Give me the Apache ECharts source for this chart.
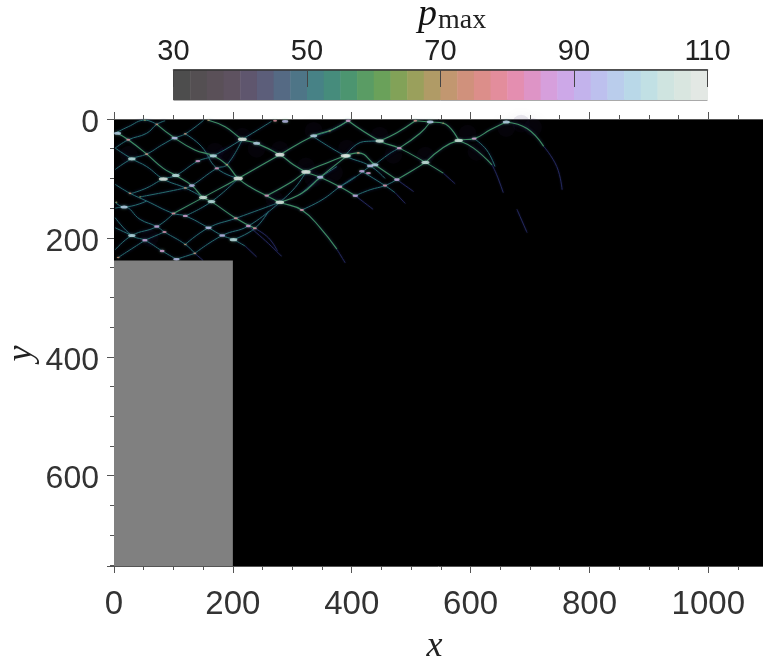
<!DOCTYPE html>
<html><head><meta charset="utf-8">
<script src="https://cdn.jsdelivr.net/npm/echarts@6/dist/echarts.min.js"></script>
<style>html,body{margin:0;padding:0;background:#fff}#c{width:763px;height:663px}canvas{filter:blur(0.45px)}</style>
</head><body><div id="c"></div>
<script>
const xTicks = [0,200,400,600,800,1000];
const yTicks = [0,200,400,600];
const xMax = 1092, yMax = 752;
const colorTicks = [30,50,70,90,110];
const colorStops = [30,32.5,35,37.5,40,42.5,45,47.5,50,52.5,55,57.5,60,62.5,65,67.5,70,72.5,75,77.5,80,82.5,85,87.5,90,92.5,95,97.5,100,102.5,105,107.5,110];
const colorValues = ['#4d4d4d','#544f52','#5a5058','#5e5260','#5f566e','#5c5e7a','#556a84','#4e7587','#478286','#468c7c','#4c9570','#5a9c64','#6aa15a','#82a258','#9aa05c','#b09b66','#c29770','#d0917c','#dc8e8a','#e38d9c','#e48eb0','#de94c6','#d69fdc','#cda8e8','#c3b3ec','#bdc0ee','#bacdec','#b9d8e8','#c1e0e4','#cfe4e0','#d9e6e0','#e3e8e4','#ebebeb'];
const wallBlock = [[0,238,200,752]];

// bright ridges
const ridgesStrong = [
 [[159,2],[187,13],[216,34],[240,41],[279,60],[302,77],[323,89],[347,98],[380,114],[406,129]],
 [[72,9],[102,32],[136,52],[167,62],[190,77],[209,100],[232,116],[257,129],[279,140],[316,153],[347,183],[375,219]],
 [[100,159],[150,132],[209,100],[279,60],[336,28],[367,18],[394,3]],
 [[6,24],[24,35],[55,59],[83,83],[104,95],[131,112],[150,132],[164,139],[205,167],[237,184]],
 [[394,3],[447,37],[480,49],[524,73],[554,91]],
 [[660,5],[695,16],[723,46]],
 [[580,36],[605,49],[636,77]],
 [[389,62],[411,57],[439,77],[476,102]],
 [[524,73],[554,48],[580,36],[606,33],[633,18],[660,5]],
 [[447,37],[476,23],[507,3]],
 [[480,49],[515,24],[532,5]],
 [[507,3],[532,5],[554,7],[580,36]],
 [[279,140],[316,125],[347,98],[392,62]],
 [[257,129],[300,105],[323,89],[358,74],[389,62]],
 [[476,102],[500,88],[524,73]]
];
// medium ridges
const ridgesMid = [
 [[2,24],[24,13],[52,2],[72,9]],
 [[2,49],[24,35],[55,24],[72,9],[86,3]],
 [[2,85],[30,67],[55,59],[80,44],[102,32],[120,25],[151,2]],
 [[30,125],[55,116],[83,101],[104,95],[141,71],[167,62],[216,34],[265,4]],
 [[44,131],[120,116],[131,112],[173,83],[190,77],[216,34]],
 [[120,163],[164,139],[209,100]],
 [[2,110],[27,125],[55,138],[100,159],[120,163],[159,183],[182,196],[201,203],[221,214]],
 [[2,150],[17,148],[44,169],[72,181],[85,190],[120,211],[136,226]],
 [[2,166],[30,196],[52,204],[81,222],[105,236]],
 [[2,49],[30,67],[55,80],[83,101],[120,116],[150,132]],
 [[120,25],[147,46],[173,83],[209,100]],
 [[2,220],[30,196],[72,181],[100,159]],
 [[52,204],[85,190]],
 [[120,211],[159,183],[205,167],[279,140]],
 [[7,233],[52,204]],
 [[136,226],[182,196],[226,180],[279,140]],
 [[105,236],[136,226]],
 [[201,203],[237,184],[260,155]],
 [[2,183],[30,196]],
 [[2,140],[17,148],[55,138]],
 [[316,153],[350,136],[380,114],[406,97]],
 [[279,140],[305,115],[323,89]],
 [[336,30],[389,62],[431,79],[456,100]],
 [[336,28],[363,20],[394,3]],
 [[389,62],[420,38],[447,37]],
 [[439,77],[464,58],[480,49]],
 [[347,98],[375,80]],
 [[380,114],[403,100],[431,79]],
 [[406,129],[431,119],[456,112],[476,102]],
 [[417,88],[456,112],[473,124]],
 [[313,127],[347,98]],
 [[606,33],[627,52],[641,80]]
];
// fading tails
const ridgesFaint = [
 [[375,219],[389,242]],
 [[237,184],[260,200],[275,222]],
 [[221,214],[240,232]],
 [[406,129],[436,152]],
 [[473,124],[490,142]],
 [[476,102],[504,122]],
 [[554,91],[574,109]],
 [[723,46],[745,80],[754,119]],
 [[636,77],[644,94],[655,124]],
 [[678,152],[695,191]],
 [[136,226],[150,238]],
 [[226,180],[255,205],[282,231]]
];
// hot spots: x, y, pmax
const hotSpots = [
 [6,24,96],[24,35,78],[30,67,100],[55,59,74],[72,9,72],[52,2,66],[102,32,92],[120,25,72],
 [167,62,98],[141,71,84],[190,77,70],[173,83,82],[216,34,108],[240,41,96],[279,60,110],[336,28,96],
 [392,62,100],[323,89,110],[347,98,92],[380,114,84],[406,129,88],[209,100,110],[83,101,108],[104,95,100],
 [120,116,72],[131,112,90],[150,132,104],[164,139,100],[257,129,82],[279,140,106],[316,153,80],
 [27,125,72],[44,131,66],[17,148,96],[4,140,66],[100,159,78],[120,163,84],[205,167,78],[159,183,92],
 [226,180,84],[237,184,78],[72,181,86],[85,190,80],[30,196,98],[52,204,86],[182,196,90],[201,203,100],
 [120,211,70],[81,222,84],[136,226,72],[105,236,92],[7,233,72],[288,4,92],[271,3,78],[394,3,84],
 [159,2,70],[363,20,68],[447,37,104],[480,49,84],[389,62,108],[411,57,72],[439,77,96],[431,79,92],
 [417,88,88],[428,91,84],[476,102,88],[456,112,80],[524,73,102],[580,36,104],[606,33,84],[507,3,76],
 [532,5,94],[554,7,66],[660,5,96]
];
const haze = [
 [216,30],[240,50],[279,52],[336,20],[323,80],[335,100],[392,50],[447,28],[470,60],[524,62],[595,25],[610,55],[685,8],[705,14],[660,15],[190,60],[60,200],[170,55],[270,135],[370,90],[25,60]
];

const inkCol = '#333333', tickCol = '#555555';
const mk = (arr, color, width, blur, glow, z) => arr.map(pts => ({
  type:'line', xAxisIndex:0, yAxisIndex:0, data:pts, smooth:0.45, symbol:'none', silent:true, z:z,
  lineStyle:{color:color, width:width, shadowBlur:blur, shadowColor:glow}
}));

const option = {
  animation:false, backgroundColor:'#ffffff',
  title:{text:'{p|p}{s|max}', left:413, top:-10, textStyle:{fontWeight:'normal', rich:{
    p:{fontFamily:'Liberation Serif', fontStyle:'italic', fontWeight:'normal', fontSize:38, color:'#111', lineHeight:40},
    s:{fontFamily:'Liberation Serif', fontWeight:'normal', fontSize:28, color:'#222', verticalAlign:'bottom', padding:[8,0,0,1]}
  }}},
  grid:[
    {left:114, top:119, right:0, bottom:97, show:true, backgroundColor:'#000000', borderWidth:0, outerBoundsMode:'none'},
    {left:173.5, top:70, width:534, height:30, show:true, backgroundColor:'#ffffff', borderColor:'#555555', borderWidth:1, outerBoundsMode:'none'}
  ],
  xAxis:[
    {gridIndex:0, type:'value', position:'bottom', min:0, max:xMax, interval:200,
     name:'x', nameLocation:'middle', nameGap:63, nameMoveOverlap:false, nameTextStyle:{fontFamily:'Liberation Serif', fontStyle:'italic', fontSize:36, color:'#222', padding:[0,8,0,0]},
     axisLine:{show:true, onZero:false, lineStyle:{color:tickCol}},
     axisTick:{show:true, length:7, lineStyle:{color:tickCol}},
     minorTick:{show:true, splitNumber:4, length:4, lineStyle:{color:tickCol}},
     splitLine:{show:false},
     axisLabel:{show:true, margin:22, fontFamily:'Liberation Sans', fontSize:33, color:inkCol, hideOverlap:false, showMaxLabel:true,
       customValues:xTicks, formatter:v=>String(v)}},
    {gridIndex:0, type:'value', position:'top', min:0, max:xMax, interval:200,
     axisLine:{show:true, onZero:false, lineStyle:{color:tickCol}},
     axisTick:{show:true, length:7, lineStyle:{color:tickCol}},
     minorTick:{show:true, splitNumber:4, length:4, lineStyle:{color:tickCol}},
     splitLine:{show:false}, axisLabel:{show:false}},
    {gridIndex:1, type:'value', position:'top', min:colorTicks[0], max:colorTicks[4], interval:20, z:8,
     axisLine:{show:true, onZero:false, lineStyle:{color:'#333', width:1.5}},
     axisTick:{show:true, inside:true, length:17, lineStyle:{color:'#444'}},
     splitLine:{show:false},
     axisLabel:{show:true, margin:4, fontFamily:'Liberation Sans', fontSize:29, color:'#222'}}
  ],
  yAxis:[
    {gridIndex:0, type:'value', inverse:true, min:0, max:yMax, interval:200,
     name:'y', nameLocation:'middle', nameRotate:90, nameGap:74, nameMoveOverlap:false, nameTextStyle:{fontFamily:'Liberation Serif', fontStyle:'italic', fontSize:36, color:'#222', padding:[0,22,0,0]},
     axisLine:{show:false, onZero:false},
     axisTick:{show:true, length:7, lineStyle:{color:tickCol}},
     minorTick:{show:true, splitNumber:4, length:4, lineStyle:{color:tickCol}},
     splitLine:{show:false},
     axisLabel:{show:true, margin:15, hideOverlap:false, showMaxLabel:true, customValues:yTicks,
       formatter:v=>'{n|'+v+'}',
       rich:{n:{fontFamily:'Liberation Sans', fontSize:32, color:inkCol, padding:[8,0,0,0]}}}},
    {gridIndex:1, type:'value', min:0, max:1, show:false}
  ],
  visualMap:[{show:false, type:'continuous', seriesIndex:1, dimension:2, min:colorTicks[0], max:colorTicks[4], inRange:{color:colorValues}}],
  series:[
    {type:'scatter', xAxisIndex:0, yAxisIndex:0, data:haze, symbolSize:18, silent:true, z:2,
     itemStyle:{color:'rgba(50,32,90,0.12)', shadowBlur:14, shadowColor:'rgba(50,32,90,0.5)'}},
    {type:'scatter', xAxisIndex:0, yAxisIndex:0, data:hotSpots, silent:true, z:6,
     symbol:'circle', symbolSize:d=>[1+(d[2]-60)/6, 1+(d[2]-60)/18],
     itemStyle:{shadowBlur:3, shadowColor:'rgba(110,190,150,0.7)'}},
    ...mk(ridgesFaint,'#23285c',1,2,'#16163c',3),
    ...mk(ridgesMid,'#256c6c',1,3,'rgba(30,50,105,0.9)',4),
    ...mk(ridgesStrong,'#3f8f62',1.1,3,'rgba(40,70,105,0.9)',5),
    {type:'custom', xAxisIndex:0, yAxisIndex:0, data:wallBlock, silent:true, z:10, encode:{x:[0,2], y:[1,3]},
     renderItem:(p,api)=>{const a=api.coord([api.value(0),api.value(1)]), b=api.coord([api.value(2),api.value(3)]);
       return {type:'rect', shape:{x:a[0],y:a[1],width:b[0]-a[0],height:b[1]-a[1]}, style:{fill:'#808080'}};}},
    {type:'custom', xAxisIndex:2, yAxisIndex:1, data:colorStops.slice(0,-1).map((s,i)=>[s,colorStops[i+1]]), silent:true, z:2, encode:{x:[0,1]},
     renderItem:(p,api)=>{const a=api.coord([api.value(0),1]), b=api.coord([api.value(1),0]);
       return {type:'rect', shape:{x:a[0],y:a[1],width:b[0]-a[0]+0.5,height:b[1]-a[1]}, style:{fill:colorValues[p.dataIndex]}};}}
  ]
};
echarts.init(document.getElementById('c'),null,{renderer:'canvas'}).setOption(option);
</script></body></html>
